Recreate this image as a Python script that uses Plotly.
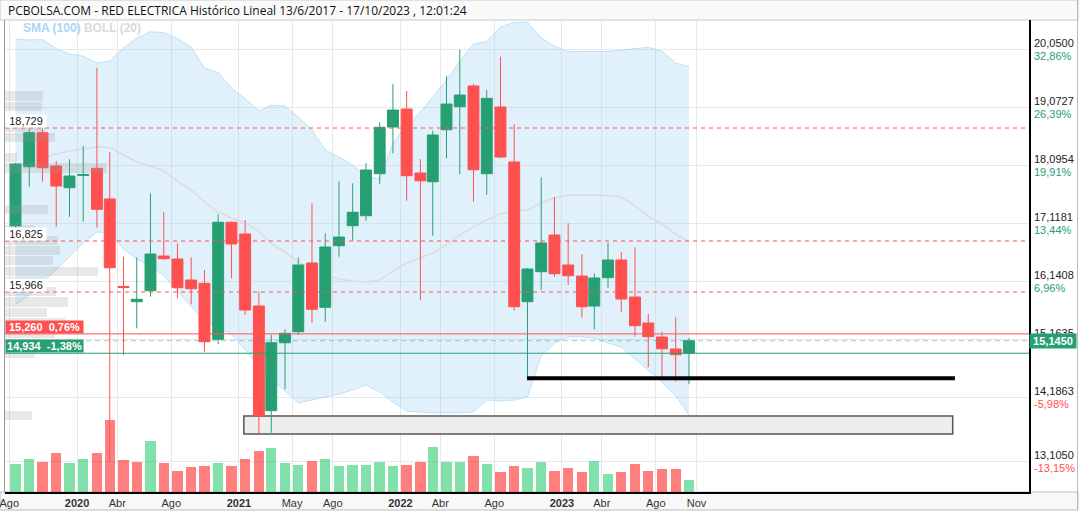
import numpy as np
import pandas as pd
import plotly.graph_objects as go

# ---------------- data ----------------
months = pd.date_range("2019-08-01", periods=51, freq="MS") + pd.Timedelta(days=14)

open_ = [17.078, 18.077, 18.650, 18.089, 17.723, 17.930, 18.050, 17.533, 16.060, 15.802,
         15.988, 16.572, 16.522, 16.168, 16.112, 15.169, 17.140, 16.943, 15.730, 13.966,
         15.111, 15.297, 16.454, 15.708, 16.746, 17.083, 17.251, 17.959, 18.746, 19.049,
         17.971, 17.824, 18.700, 19.088, 19.437, 17.959, 19.083, 18.156, 15.802, 16.308,
         16.926, 16.421, 16.235, 15.730, 16.207, 16.505, 15.881, 15.443, 15.207, 15.005,
         14.934]
high = [18.144, 18.717, 18.717, 18.173, 18.202, 18.426, 19.745, 18.320, 16.561, 16.550,
        17.629, 17.309, 16.786, 16.550, 16.336, 17.275, 17.150, 17.179, 15.971, 15.241,
        15.337, 16.550, 17.460, 16.955, 17.831, 17.797, 18.134, 18.825, 19.470, 19.352,
        18.207, 18.684, 19.605, 20.050, 19.470, 19.369, 19.930, 18.791, 16.370, 17.898,
        17.566, 17.123, 16.606, 16.281, 16.796, 16.640, 16.719, 15.595, 15.297, 15.539,
        15.196]
low = [17.049, 17.740, 17.824, 17.066, 17.234, 17.150, 17.049, 13.105, 14.904, 15.354,
       15.887, 16.505, 15.859, 15.758, 14.960, 15.085, 16.197, 15.578, 13.556, 13.595,
       14.326, 15.241, 15.449, 15.465, 16.561, 16.830, 17.167, 17.785, 18.303, 17.504,
       15.831, 16.914, 18.218, 17.949, 17.487, 17.605, 18.220, 15.651, 14.512, 16.000,
       16.224, 16.084, 15.533, 15.337, 16.038, 15.634, 15.213, 14.697, 14.539, 14.454,
       14.411]
close = [18.122, 18.650, 18.060, 17.752, 17.920, 17.945, 17.359, 16.375, 16.040, 15.843,
         16.606, 16.527, 16.038, 16.021, 15.128, 17.140, 16.775, 15.662, 13.876, 15.111,
         15.270, 16.421, 15.674, 16.724, 16.892, 17.309, 18.021, 18.741, 19.032, 17.925,
         17.841, 18.611, 19.133, 19.285, 18.026, 19.229, 18.240, 15.718, 16.353, 16.791,
         16.274, 16.240, 15.718, 16.202, 16.505, 15.848, 15.398, 15.213, 15.010, 14.909,
         15.145]
volume = [13.9, 16.4, 14.9, 19.4, 14.4, 16.4, 19.4, 35.9, 16.0, 14.9,
          25.4, 14.4, 10.4, 12.4, 13.0, 14.4, 13.0, 16.4, 20.4, 22.0,
          14.4, 13.5, 15.5, 16.5, 13.0, 13.5, 13.5, 14.9, 13.0, 13.5,
          14.9, 22.4, 14.9, 14.9, 17.9, 13.9, 10.0, 12.9, 12.0, 14.9,
          10.4, 11.9, 9.9, 15.4, 9.0, 9.9, 13.9, 10.5, 11.4, 11.4,
          6.0]
boll_upper = [20.229, 20.212, 20.220, 20.068, 19.976, 19.942, 19.824, 19.858, 20.077, 20.245,
              20.352, 20.338, 20.237, 20.094, 19.740, 19.664, 19.403, 19.226, 19.015, 19.117,
              19.100, 18.914, 18.695, 18.358, 18.240, 18.106, 17.920, 17.870, 18.476, 18.780,
              18.999, 19.251, 19.538, 19.858, 20.144, 20.186, 20.431, 20.510, 20.510, 20.245,
              20.111, 20.015, 20.015, 20.015, 20.018, 20.043, 20.068, 20.089, 20.026, 19.824,
              19.762]
boll_lower = [15.747, 15.915, 16.117, 16.336, 16.556, 16.791, 16.977, 16.960, 16.690, 16.522,
              16.404, 16.235, 15.983, 15.713, 15.477, 15.359, 15.258, 14.989, 14.719, 14.483,
              14.298, 14.096, 14.146, 14.197, 14.247, 14.315, 14.399, 14.281, 14.112, 13.961,
              13.944, 13.927, 13.927, 13.927, 13.944, 14.146, 14.129, 14.146, 14.197, 14.887,
              15.106, 15.208, 15.208, 15.191, 15.106, 15.039, 14.837, 14.652, 14.449, 14.214,
              13.893]
sma_mid = [18.089, 18.156, 18.224, 18.291, 18.342, 18.375, 18.414, 18.400, 18.274, 18.156,
           18.089, 18.005, 17.836, 17.684, 17.482, 17.314, 17.213, 17.128, 16.994, 16.775,
           16.640, 16.471, 16.353, 16.252, 16.185, 16.151, 16.134, 16.168, 16.320, 16.454,
           16.539, 16.623, 16.758, 16.926, 17.061, 17.179, 17.280, 17.331, 17.347, 17.465,
           17.550, 17.600, 17.600, 17.600, 17.592, 17.566, 17.415, 17.246, 17.112, 16.943,
           16.808]

# volume-at-price profile (40 bins between the period low and high)
price_min, price_max = 13.105, 20.05
profile_vol = [0, 0, 0, 0, 1.35, 0, 0, 0, 0, 0,
               1.5, 2.0, 2.5, 3.0, 2.1, 3.15, 2.55, 2.0, 4.65, 2.4,
               2.75, 2.65, 1.5, 0, 2.15, 0, 0, 0, 5.1, 0.6,
               0, 2.5, 2.0, 0, 1.85, 1.9, 0, 0, 0, 0]

# right axis ticks (the percentage of 15,1635 is hidden behind the price box)
y_ticks = [13.105, 14.1863, 15.1635, 16.1408, 17.1181, 18.0954, 19.0727, 20.05]
y_tick_vals_txt = ["13,1050", "14,1863", "15,1635", "16,1408", "17,1181", "18,0954", "19,0727", "20,0500"]
y_tick_pct_txt = ["-13,15%", "-5,98%", "", "6,96%", "13,44%", "19,91%", "26,39%", "32,86%"]

x_tick_dates = ["2019-08-01", "2020-01-01", "2020-04-01", "2020-08-01", "2021-01-01", "2021-05-01",
                "2021-08-01", "2022-01-01", "2022-04-01", "2022-08-01", "2023-01-01", "2023-04-01",
                "2023-08-01", "2023-11-01"]
x_tick_text = ["Ago", "<b>2020</b>", "Abr", "Ago", "<b>2021</b>", "May", "Ago", "<b>2022</b>",
               "Abr", "Ago", "<b>2023</b>", "Abr", "Ago", "Nov"]

# reference levels
resist_levels = [18.729, 16.825, 15.966]
resist_labels = ["18,729", "16,825", "15,966"]
red_level, red_label = 15.260, "15,260&nbsp;&nbsp;0,76%"
green_level, green_label = 14.934, "14,934&nbsp;&nbsp;-1,38%"
last_price, last_label = 15.145, "15,1450"
support_line = dict(start="2022-10-14", end="2025-06-07", level=14.512)
support_zone = dict(start="2021-01-12", end="2025-06-02", low=13.573, high=13.876)

# ---------------- styles ----------------
GREEN = "#26A073"
RED = "#FF5050"
VOL_UP = "rgba(5,193,85,0.5)"
VOL_DN = "rgba(255,0,0,0.5)"
FONT = "Arial"
Y_RANGE = [12.596, 20.549]

fig = go.Figure()

# Bollinger band (main subplot, drawn first)
fig.add_trace(go.Scatter(x=months, y=boll_lower, mode="lines",
                         line=dict(color="rgba(150,205,245,0.55)", width=1),
                         hoverinfo="skip", showlegend=False))
fig.add_trace(go.Scatter(x=months, y=boll_upper, mode="lines", fill="tonexty",
                         fillcolor="rgba(155,208,245,0.3)",
                         line=dict(color="rgba(150,205,245,0.55)", width=1),
                         hoverinfo="skip", showlegend=False))
fig.add_trace(go.Scatter(x=months, y=sma_mid, mode="lines",
                         line=dict(color="#dcdcdc", width=1.5),
                         hoverinfo="skip", showlegend=False))

# volume profile (left)
bin_step = (price_max - price_min) / len(profile_vol)
bin_centers = [price_min + bin_step * (j + 0.5) for j in range(len(profile_vol))]
fig.add_trace(go.Bar(y=bin_centers, x=profile_vol, orientation="h", xaxis="x2", yaxis="y",
                     width=bin_step * 0.9, marker=dict(color="rgba(150,150,150,0.22)", line_width=0),
                     hoverinfo="skip", showlegend=False))

# volume bars (bottom)
vol_colors = [VOL_UP if i == 0 or close[i] >= close[i - 1] else VOL_DN for i in range(len(close))]
fig.add_trace(go.Bar(x=months, y=volume, yaxis="y2", width=23.5 * 86400000,
                     marker=dict(color=vol_colors, line_width=0),
                     hoverinfo="skip", showlegend=False))

# candles on an overlaid price axis so they sit above the band fill
fig.add_trace(go.Candlestick(
    x=months, open=open_, high=high, low=low, close=close, yaxis="y3",
    increasing=dict(line=dict(color=GREEN, width=1), fillcolor=GREEN),
    decreasing=dict(line=dict(color=RED, width=1), fillcolor=RED),
    whiskerwidth=0, hoverinfo="skip", showlegend=False))

# ---------------- shapes ----------------
shapes = []
def px_paper_y(py):
    return (492 - py) / 472
def px_paper_x(px):
    return (px - 5) / 1024

shapes.append(dict(type="rect", xref="paper", yref="paper", x0=px_paper_x(0), x1=px_paper_x(1078),
                   y0=1, y1=px_paper_y(0), fillcolor="#fafafa", line=dict(color="#c8c8c8", width=1),
                   layer="below"))
shapes.append(dict(type="rect", xref="paper", yref="paper", x0=px_paper_x(0), x1=px_paper_x(1078),
                   y0=px_paper_y(510), y1=0, fillcolor="#f8f8f8", line=dict(color="#bbbbbb", width=1),
                   layer="below"))
shapes.append(dict(type="line", xref="paper", yref="paper", x0=px_paper_x(4.5), x1=px_paper_x(4.5),
                   y0=0, y1=1, line=dict(color="#999999", width=1)))
shapes.append(dict(type="line", xref="paper", yref="paper", x0=px_paper_x(1077.5), x1=px_paper_x(1077.5),
                   y0=px_paper_y(510), y1=px_paper_y(0), line=dict(color="#bbbbbb", width=1)))

shapes.append(dict(type="rect", xref="x", yref="y", x0=support_zone["start"], x1=support_zone["end"],
                   y0=support_zone["low"], y1=support_zone["high"], fillcolor="#eeeeee",
                   line=dict(color="#555555", width=1.5), layer="between"))
for lv in resist_levels:
    shapes.append(dict(type="line", xref="paper", yref="y", x0=0, x1=1, y0=lv, y1=lv,
                       line=dict(color=RED, width=1, dash="4px,4px")))
shapes.append(dict(type="line", xref="paper", yref="y", x0=0, x1=1, y0=red_level, y1=red_level,
                   line=dict(color=RED, width=1)))
shapes.append(dict(type="line", xref="paper", yref="y", x0=0, x1=1, y0=last_price, y1=last_price,
                   line=dict(color="rgba(38,160,115,0.45)", width=1, dash="5px,4px")))
shapes.append(dict(type="line", xref="paper", yref="y", x0=0, x1=1, y0=green_level, y1=green_level,
                   line=dict(color=GREEN, width=1)))
shapes.append(dict(type="line", xref="x", yref="y", x0=support_line["start"], x1=support_line["end"],
                   y0=support_line["level"], y1=support_line["level"],
                   line=dict(color="black", width=4)))

# ---------------- annotations ----------------
ann = []
ann.append(dict(xref="paper", yref="paper", x=px_paper_x(6), y=px_paper_y(10.5), xanchor="left",
                yanchor="middle", showarrow=False,
                text="PCBOLSA.COM - RED ELECTRICA Histórico Lineal 13/6/2017 - 17/10/2023 , 12:01:24",
                font=dict(family="Open Sans", size=12, color="#111111")))
ann.append(dict(xref="paper", yref="paper", x=px_paper_x(21), y=px_paper_y(28), xanchor="left",
                yanchor="middle", showarrow=False,
                text="<b><span style='color:#a6d6f7'>SMA (100)</span> <span style='color:#dadada'>BOLL (20)</span></b>",
                font=dict(family=FONT, size=12)))

# right axis labels: value above the grid line, percentage below it
for tv, vt, pt in zip(y_ticks, y_tick_vals_txt, y_tick_pct_txt):
    ann.append(dict(xref="paper", yref="y", x=1, y=tv, xanchor="left", yanchor="middle",
                    xshift=3, yshift=6.5, showarrow=False, text=vt,
                    font=dict(family=FONT, size=11, color="#222222")))
    if pt:
        col = RED if pt.startswith("-") else GREEN
        ann.append(dict(xref="paper", yref="y", x=1, y=tv, xanchor="left", yanchor="middle",
                        xshift=3, yshift=-6, showarrow=False, text=pt,
                        font=dict(family=FONT, size=11, color=col)))

for lv, lb in zip(resist_levels, resist_labels):
    ann.append(dict(xref="paper", yref="y", x=0, y=lv, xanchor="left", yanchor="bottom",
                    showarrow=False, text=lb, bgcolor="white", width=40, borderpad=0,
                    font=dict(family=FONT, size=11, color="#222222")))
ann.append(dict(xref="paper", yref="y", x=0, y=red_level, xanchor="left", yanchor="bottom",
                showarrow=False, text="<b>" + red_label + "</b>", bgcolor=RED, width=77, borderpad=0,
                font=dict(family=FONT, size=11, color="white")))
ann.append(dict(xref="paper", yref="y", x=0, y=green_level, xanchor="left", yanchor="bottom",
                showarrow=False, text="<b>" + green_label + "</b>", bgcolor=GREEN, width=77, borderpad=0,
                font=dict(family=FONT, size=11, color="white")))
ann.append(dict(xref="paper", yref="y", x=1, y=last_price, xanchor="left", yanchor="middle",
                showarrow=False, text="<b>" + last_label + "</b>", bgcolor=GREEN, width=44, borderpad=1,
                font=dict(family=FONT, size=11, color="white")))

fig.update_layout(
    width=1083, height=515, autosize=False,
    margin=dict(l=5, r=54, t=20, b=23, autoexpand=False),
    paper_bgcolor="white", plot_bgcolor="white",
    showlegend=False, boxgap=0.12, boxgroupgap=0, bargap=0,
    xaxis=dict(type="date", range=["2019-07-22 06:00", "2025-11-21 10:00"], automargin=False,
               tickmode="array", tickvals=x_tick_dates, ticktext=x_tick_text,
               ticklabeloverflow="allow",
               showgrid=True, gridcolor="#e8e8e8", gridwidth=1, zeroline=False,
               showline=True, linecolor="black", linewidth=1.5, ticks="",
               tickfont=dict(family=FONT, size=11, color="#333333"),
               rangeslider=dict(visible=False), fixedrange=True),
    yaxis=dict(side="right", range=Y_RANGE, tickmode="array", tickvals=y_ticks, automargin=False,
               showticklabels=False, showgrid=True, gridcolor="#e8e8e8", gridwidth=1,
               zeroline=False, showline=True, linecolor="black", linewidth=1.5, ticks="",
               fixedrange=True),
    xaxis2=dict(overlaying="x", anchor="y", range=[0, 51.2], visible=False, showgrid=False,
                automargin=False, fixedrange=True),
    yaxis2=dict(overlaying="y", anchor="x", range=[0, 236], visible=False, showgrid=False,
                automargin=False, fixedrange=True),
    yaxis3=dict(overlaying="y", anchor="x", range=Y_RANGE, visible=False, showgrid=False,
                automargin=False, fixedrange=True),
    shapes=shapes, annotations=ann,
)

fig.write_html("out.html", config={"displayModeBar": False, "staticPlot": True})
